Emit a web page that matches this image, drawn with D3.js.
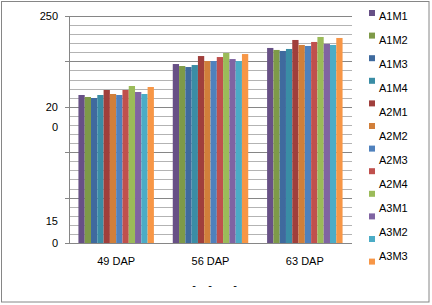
<!DOCTYPE html>
<html><head><meta charset="utf-8">
<script src="https://cdn.jsdelivr.net/npm/d3@7"></script>
<style>body{margin:0;background:#fff}svg{display:block}text{font-family:"Liberation Sans",Arial,sans-serif;font-size:11px;fill:#000}</style>
</head><body><svg id="c" width="432" height="305"></svg>
<script>
const categories = ["49 DAP", "56 DAP", "63 DAP"];
const seriesNames = ["A1M1","A1M2","A1M3","A1M4","A2M1","A2M2","A2M3","A2M4","A3M1","A3M2","A3M3","A3M4"];
const seriesColors = ["#675086","#7E9A48","#3F6A9E","#3A8DA5","#A03F3C","#D17F3A","#4F81BD","#C0504D","#9BBB59","#8064A2","#4BACC6","#F79646"];
const values49 = [163, 160.8, 159.7, 163, 168.5, 164.1, 163, 168.5, 172.9, 166.3, 164.1, 171.8];
const values56 = [197.1, 194.9, 193.8, 196, 205.9, 200.4, 200.4, 204.8, 209.3, 202.6, 200.4, 208.1];
const values63 = [214.8, 212.6, 211.5, 213.7, 223.6, 218.1, 217, 221.4, 226.9, 219.2, 218.1, 225.8];
const yTickLabels = ["250", "20", "0", "15", "0"];
const yTickLabelValues = [250, 150, 128, 24, 0];
const axisTitleMarks = ["-", "-", "-"];

const table = [values49, values56, values63];
const svg = d3.select("#c");
svg.append("rect").attr("x",1.5).attr("y",1.5).attr("width",427.5).attr("height",300.5)
  .attr("fill","#fff").attr("stroke","#868686");

const L = 69, R = 352, T = 16, B = 243;
const x = d3.scaleBand().domain(categories).range([L, R]).paddingInner(0.2).paddingOuter(0.1);
const xs = d3.scaleBand().domain(seriesNames).range([0, x.bandwidth()]);
const y = d3.scaleLinear().domain([0, 250]).range([B, T]);

// gridlines
const minor = d3.range(10, 250, 10).filter(v => v % 50 !== 0);
svg.append("g").selectAll("line").data(minor).join("line")
  .attr("x1", L).attr("x2", R).attr("y1", d => Math.round(y(d))+0.5).attr("y2", d => Math.round(y(d))+0.5)
  .attr("stroke", "#b3b3b3");
const major = [50,100,150,200,250];
svg.append("g").selectAll("line").data(major).join("line")
  .attr("x1", L-4).attr("x2", R).attr("y1", d => Math.round(y(d))+0.5).attr("y2", d => Math.round(y(d))+0.5)
  .attr("stroke", "#868686");

// bars
const g = svg.append("g");
categories.forEach((c, ci) => {
  g.append("g").selectAll("rect").data(table[ci]).join("rect")
    .attr("x", (d, i) => x(c) + xs(seriesNames[i]))
    .attr("width", xs.bandwidth())
    .attr("y", d => y(d))
    .attr("height", d => B - y(d))
    .attr("fill", (d, i) => seriesColors[i]);
});

// axes lines
svg.append("line").attr("x1", L+0.5).attr("x2", L+0.5).attr("y1", T).attr("y2", B).attr("stroke", "#868686");
svg.append("line").attr("x1", L-4).attr("x2", R).attr("y1", B+0.5).attr("y2", B+0.5).attr("stroke", "#868686");

// y labels
svg.append("g").selectAll("text").data(yTickLabels).join("text")
  .attr("x", 58).attr("y", (d, i) => y(yTickLabelValues[i]) + 4)
  .attr("text-anchor", "end").text(d => d);

// x labels
svg.append("g").selectAll("text").data(categories).join("text")
  .attr("x", d => x(d) + x.bandwidth()/2).attr("y", 265)
  .attr("text-anchor", "middle").text(d => d);

// garbled axis title
const titleX = [194, 210, 235];
svg.append("g").selectAll("text").data(axisTitleMarks).join("text")
  .attr("x", (d, i) => titleX[i]).attr("y", 289).attr("text-anchor", "middle").text(d => d);

// legend
const lg = svg.append("g");
lg.selectAll("rect").data(seriesNames).join("rect")
  .attr("x", 369).attr("y", (d, i) => 10 + i * 22.6).attr("width", 6).attr("height", 6)
  .attr("fill", (d, i) => seriesColors[i]);
lg.selectAll("text").data(seriesNames.filter((d, i) => 15.5 + i * 24 < 270)).join("text")
  .attr("x", 379).attr("y", (d, i) => 19.5 + i * 24).text(d => d);
</script></body></html>
